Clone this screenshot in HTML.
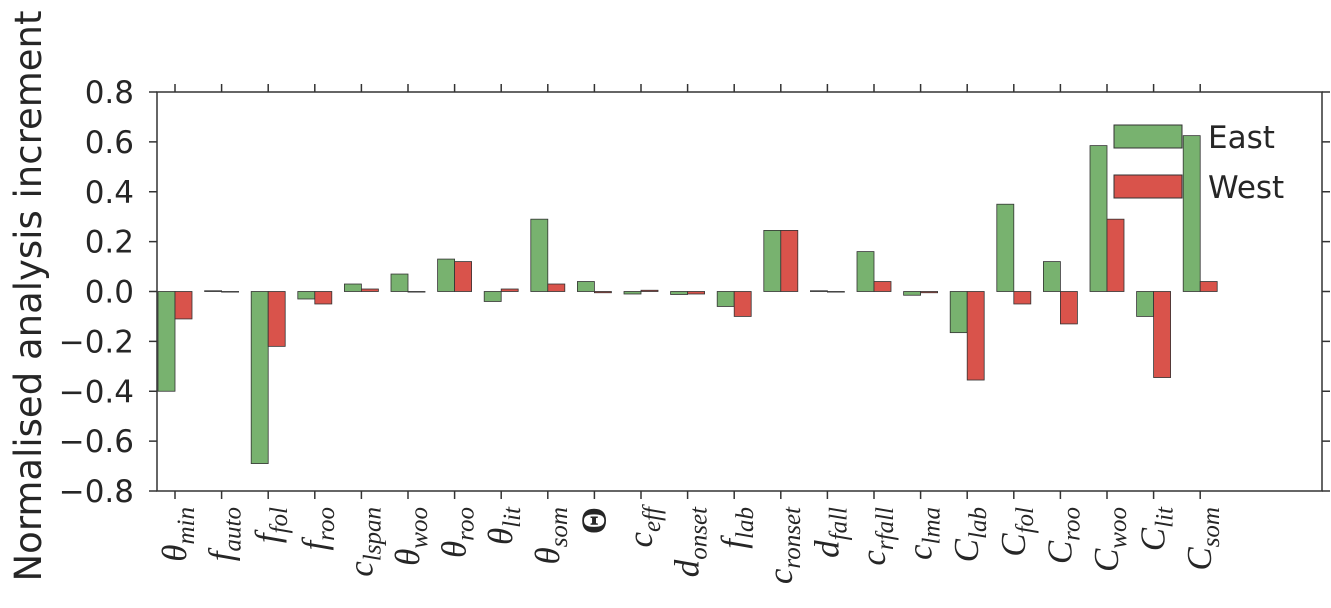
<!DOCTYPE html>
<html><head><meta charset="utf-8"><style>
body{margin:0;background:#fff}
svg{display:block}
text{fill:#262626}
</style></head><body>
<svg id="chart" width="1331" height="608" xmlns="http://www.w3.org/2000/svg">
<rect x="0" y="0" width="1331" height="608" fill="#fff"/>
<g id="bars"></g>
<g id="axes"></g>
<text transform="translate(41,296) rotate(-90)" text-anchor="middle" font-family="'DejaVu Sans','Liberation Sans',sans-serif" font-size="37">Normalised analysis increment</text>
<g>
<rect x="1114" y="125" width="68" height="23" fill="#78b26f" stroke="#333" stroke-width="1"/>
<text x="1208" y="148" font-family="'DejaVu Sans','Liberation Sans',sans-serif" font-size="31">East</text>
<rect x="1114" y="175" width="68" height="23" fill="#d9534b" stroke="#333" stroke-width="1"/>
<text x="1208" y="198" font-family="'DejaVu Sans','Liberation Sans',sans-serif" font-size="31">West</text>
</g>
</svg>
<script>
const categories = [["θ","min"],["f","auto"],["f","fol"],["f","roo"],["c","lspan"],["θ","woo"],["θ","roo"],["θ","lit"],["θ","som"],["Θ",""],["c","eff"],["d","onset"],["f","lab"],["c","ronset"],["d","fall"],["c","rfall"],["c","lma"],["C","lab"],["C","fol"],["C","roo"],["C","woo"],["C","lit"],["C","som"]];
const eastValues = [-0.40,0.003,-0.69,-0.03,0.03,0.07,0.13,-0.04,0.29,0.04,-0.01,-0.012,-0.06,0.245,0.003,0.16,-0.015,-0.165,0.35,0.12,0.585,-0.10,0.625];
const westValues = [-0.11,-0.002,-0.22,-0.05,0.01,0.0,0.12,0.01,0.03,-0.005,0.005,-0.01,-0.10,0.245,0.0,0.04,-0.005,-0.355,-0.05,-0.13,0.29,-0.345,0.04];
const yTicks = [0.8,0.6,0.4,0.2,0.0,-0.2,-0.4,-0.6,-0.8];

const NS="http://www.w3.org/2000/svg";
const L=157,R=1322,T=92,B=491;
const x0=175,step=46.6,bw=17;
function xPos(i){return x0+i*step;}
function yPos(v){return T+(0.8-v)/1.6*(B-T);}
function mk(tag,attrs,parent){const e=document.createElementNS(NS,tag);for(const k in attrs)e.setAttribute(k,attrs[k]);parent.appendChild(e);return e;}
const bars=document.getElementById('bars'),axes=document.getElementById('axes');
categories.forEach((c,i)=>{
  const xc=xPos(i);
  [[eastValues[i],xc-bw,'#78b26f','east'],[westValues[i],xc,'#d9534b','west']].forEach(([v,x,col,s])=>{
    const y1=yPos(Math.max(v,0)),y2=yPos(Math.min(v,0));
    const r=mk('rect',{x:x,y:y1,width:bw,height:Math.max(y2-y1,0.6),fill:col,stroke:'#333','stroke-width':0.8},bars);
    
    
  });
  mk('line',{x1:xc,x2:xc,y1:B,y2:B+8,stroke:'#333','stroke-width':1.5},axes);
  mk('line',{x1:xc,x2:xc,y1:T,y2:T-8,stroke:'#333','stroke-width':1.5},axes);
  const t=mk('text',{transform:`translate(${xc+11},507) rotate(-90)`,'text-anchor':'end','font-family':"'Liberation Serif',serif",'font-style':'italic','font-size':35},axes);
  
  
  const a=document.createElementNS(NS,'tspan');a.textContent=c[0];t.appendChild(a);
  if(c[0]==='Θ'){a.setAttribute('font-style','normal');a.setAttribute('font-weight','bold');}
  if(c[1]){const b=document.createElementNS(NS,'tspan');b.setAttribute('font-size','25');b.setAttribute('dy','8');b.textContent=c[1];t.appendChild(b);}
});
yTicks.forEach(v=>{
  const y=yPos(v);
  mk('line',{x1:L-8,x2:L,y1:y,y2:y,stroke:'#333','stroke-width':1.5},axes);
  mk('line',{x1:R,x2:R+8,y1:y,y2:y,stroke:'#333','stroke-width':1.5},axes);
  const t=mk('text',{x:L-23,y:y+11,'text-anchor':'end','font-family':"'DejaVu Sans','Liberation Sans',sans-serif",'font-size':31},axes);
  t.textContent=(v<0?'\u2212':'')+Math.abs(v).toFixed(1);
  
  
});
const f=mk('rect',{x:L,y:T,width:R-L,height:B-T,fill:'none',stroke:'#333','stroke-width':1.5},axes);


</script>
</body></html>
